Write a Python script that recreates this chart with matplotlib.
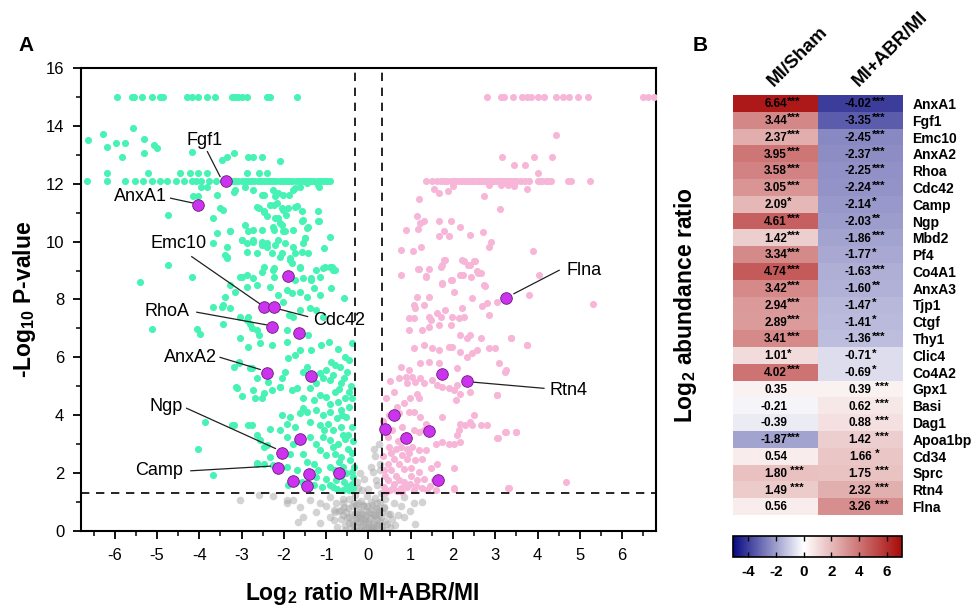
import numpy as np
import matplotlib
matplotlib.use("Agg")
import matplotlib.pyplot as plt
from matplotlib.colors import LinearSegmentedColormap, Normalize
from matplotlib.ticker import MultipleLocator

plt.rcParams['font.family'] = ['Liberation Sans', 'DejaVu Sans']
plt.rcParams['axes.unicode_minus'] = False
plt.rcParams['mathtext.default'] = 'regular'

# ---------------- volcano data (log2 ratio, -log10 p) ----------------
green_top_x = [-5.95, -5.59, -5.55, -5.36, -5.12, -4.93, -4.86, -4.29, -4.17, -4.03,
               -3.82, -3.63, -3.22, -3.15, -3.08, -2.99, -2.87, -2.39, -2.32, -1.68]
green_row_x = [-6.66, -6.18, -5.76, -5.52, -5.33, -5.12, -4.93, -4.76, -4.55, -4.36,
               -4.18, -4.07, -3.95, -3.76, -3.6, -3.45, -3.3, -3.22, -3.15, -3.08,
               -3.0, -2.93, -2.85, -2.78, -2.7, -2.62, -2.55, -2.48, -2.4, -2.33,
               -2.25, -2.18, -2.1, -2.02, -1.95, -1.88, -1.8, -1.72, -1.65, -1.58,
               -1.5, -1.42, -1.35, -1.28, -1.2, -1.12, -1.05, -0.98, -0.92]
green_pts = [
    (-6.63, 13.52), (-6.29, 13.72), (-6.18, 13.27), (-5.96, 13.4), (-5.82, 12.94),
    (-5.75, 13.4), (-5.56, 13.91), (-5.32, 13.55), (-5.3, 13.06), (-5.07, 13.35),
    (-5.01, 13.23), (-6.18, 12.37), (-5.21, 12.37), (-4.45, 12.37), (-4.22, 12.37),
    (-4.18, 13.11), (-4.02, 12.37), (-3.82, 12.37), (-3.47, 12.83), (-3.35, 12.94),
    (-3.19, 13.06), (-2.84, 12.94), (-2.72, 12.94), (-2.52, 12.94), (-2.09, 12.77),
    (-2.87, 12.37), (-2.6, 12.37), (-2.4, 12.37), (-4.14, 11.56), (-4.02, 11.56),
    (-3.59, 11.62), (-3.82, 11.9), (-3.97, 11.9), (-3.43, 11.1), (-3.15, 11.79),
    (-2.92, 11.9), (-2.72, 11.79), (-2.48, 11.62), (-2.25, 11.79), (-2.13, 11.68),
    (-2.01, 11.62), (-1.78, 11.79), (-1.63, 11.9), (-1.16, 11.9), (-2.6, 11.16),
    (-2.48, 11.05), (-2.32, 11.27), (-2.17, 11.33), (-2.01, 11.1), (-1.9, 11.16),
    (-1.7, 11.22), (-1.58, 11.05), (-4.73, 10.92), (-3.67, 10.81), (-2.4, 10.87),
    (-2.21, 10.81), (-1.94, 10.92), (-1.55, 10.76), (-1.16, 10.7), (-1.19, 11.05),
    (-3.59, 10.29), (-3.27, 10.35), (-2.84, 10.35), (-2.72, 10.4), (-2.52, 10.4),
    (-2.25, 10.52), (-2.09, 10.64), (-1.98, 10.35), (-1.78, 10.4), (-1.42, 10.52),
    (-3.67, 9.94), (-3.35, 9.83), (-3.0, 10.06), (-2.87, 9.94), (-2.72, 10.06),
    (-2.52, 9.89), (-2.4, 9.94), (-2.13, 10.06), (-1.98, 9.94), (-1.78, 9.83),
    (-1.55, 9.94), (-1.51, 10.12), (-0.9, 10.17), (-1.06, 9.77), (-3.35, 9.48),
    (-2.87, 9.65), (-2.63, 9.6), (-2.28, 9.6), (-2.09, 9.48), (-1.86, 9.37),
    (-1.74, 9.6), (-1.58, 9.65), (-4.73, 9.19), (-4.18, 8.79), (-3.04, 8.79),
    (-2.87, 8.85), (-2.48, 9.13), (-2.25, 9.02), (-1.82, 9.25), (-1.63, 9.13),
    (-1.35, 8.73), (-1.23, 9.02), (-1.03, 9.13), (-0.87, 9.13), (-0.84, 9.02),
    (-5.4, 8.62), (-3.19, 11.73), (-2.52, 11.62), (-2.2, 11.56), (-1.89, 11.62),
    (-1.74, 11.84), (-1.46, 12.02), (-1.19, 11.96), (-3.51, 11.16), (-2.64, 11.21),
    (-2.48, 11.04), (-2.24, 11.27), (-2.05, 11.16), (-1.74, 11.21), (-2.13, 10.81),
    (-2.05, 10.58), (-2.91, 10.58), (-2.24, 10.41), (-2.01, 10.35), (-1.58, 10.7),
    (-1.46, 10.46), (-1.19, 10.7), (-3.27, 10.35), (-2.99, 10.06), (-2.72, 10.0),
    (-2.53, 10.0), (-2.41, 9.83), (-2.21, 9.89), (-2.05, 9.6), (-1.85, 9.43),
    (-1.42, 9.6), (-1.5, 10.12), (-3.39, 9.54), (-3.35, 9.43), (-2.24, 9.08),
    (-1.62, 9.08), (-1.07, 9.08), (-0.92, 9.13), (-0.8, 9.02), (-2.99, 8.79),
    (-2.72, 8.73), (-2.53, 8.96), (-2.24, 8.79), (-1.74, 8.67), (-1.54, 8.73),
    (-1.35, 8.67), (-1.15, 8.79), (-3.27, 8.5), (-3.15, 8.27), (-2.88, 8.44),
    (-2.64, 8.5), (-2.32, 8.44), (-2.13, 8.16), (-1.93, 8.33), (-1.81, 8.21),
    (-1.62, 8.27), (-1.46, 8.1), (-1.3, 8.39), (-1.15, 8.16), (-0.88, 8.39),
    (-0.59, 8.04), (-3.39, 8.1), (-3.47, 7.75), (-3.43, 7.17), (-2.01, 7.93),
    (-1.89, 7.47), (-1.78, 7.41), (-1.62, 7.64), (-1.38, 7.7), (-1.23, 7.64),
    (-1.07, 7.41), (-1.93, 6.94), (-1.42, 6.77), (-2.84, 7.4), (-2.8, 7.17),
    (-2.76, 7.0), (-3.03, 6.66), (-2.6, 6.77), (-2.57, 6.48), (-2.29, 6.43),
    (-1.93, 6.54), (-1.37, 6.25), (-1.13, 6.43), (-0.93, 6.54), (-1.62, 6.25),
    (-1.9, 5.97), (-1.74, 6.08), (-3.07, 5.79), (-2.8, 5.62), (-1.97, 5.5),
    (-2.05, 5.27), (-1.54, 5.5), (-1.46, 5.68), (-1.15, 5.45), (-1.0, 5.56),
    (-0.88, 5.85), (-0.8, 5.74), (-1.07, 5.27), (-0.92, 5.21), (-0.84, 5.39),
    (-0.68, 5.68), (-0.65, 5.1), (-0.47, 4.81), (-3.11, 4.93), (-2.72, 4.87),
    (-2.53, 4.58), (-2.29, 4.87), (-2.09, 4.99), (-1.82, 4.87), (-1.7, 4.93),
    (-1.38, 4.93), (-1.23, 5.1), (-1.54, 4.58), (-1.3, 4.52), (-1.15, 4.7),
    (-1.0, 4.64), (-0.8, 4.81), (-0.72, 4.47), (-1.54, 4.24), (-1.62, 4.06),
    (-1.46, 4.12), (-2.05, 4.0), (-1.85, 3.94), (-1.23, 4.18), (-1.07, 4.0),
    (-0.92, 4.12), (-0.65, 4.18), (-0.53, 3.94), (-0.45, 4.29), (-1.93, 3.71),
    (-1.74, 3.6), (-1.38, 3.77), (-1.15, 3.66), (-0.96, 3.71), (-0.84, 3.48),
    (-0.65, 3.6), (-3.23, 3.66), (-2.84, 3.66), (-2.33, 3.54), (-2.09, 3.48),
    (-2.57, 3.14), (-2.41, 2.96), (-1.93, 3.25), (-1.78, 3.02), (-1.38, 3.25),
    (-1.23, 3.02), (-1.07, 3.25), (-0.92, 3.14), (-0.72, 3.02), (-0.56, 3.19),
    (-0.48, 2.85), (-1.15, 2.79), (-1.0, 2.62), (-0.8, 2.67), (-0.65, 2.56),
    (-1.54, 2.67), (-1.85, 2.67), (-2.33, 2.56), (-2.64, 2.33), (-2.25, 2.27),
    (-1.93, 2.21), (-1.7, 2.1), (-1.3, 2.33), (-1.19, 2.1), (-0.92, 2.21),
    (-0.6, 2.21), (-0.4, 2.04), (-1.23, 1.87), (-1.0, 1.81), (-0.77, 1.75),
    (-0.57, 1.7), (-0.4, 1.64), (-1.11, 1.53), (-0.84, 1.53), (-0.6, 1.41),
    (-0.45, 1.41), (-0.37, 1.87), (-1.9, 1.58), (-1.58, 1.7), (-0.34, 2.21),
    (-0.44, 2.44), (-5.13, 6.97), (-4.06, 6.97), (-3.98, 6.81), (-3.67, 7.75),
    (-3.43, 7.81), (-3.27, 7.7), (-3.03, 7.41), (-2.87, 7.29), (-2.64, 6.94),
    (-2.84, 6.37), (-3.07, 5.85), (-3.19, 5.68), (-2.76, 5.62), (-2.64, 5.27),
    (-2.37, 5.16), (-2.09, 4.98), (-3.13, 4.96), (-2.99, 4.66), (-2.68, 4.58),
    (-2.48, 4.76), (-3.86, 3.77), (-4.02, 2.85), (-3.67, 1.93), (-3.19, 3.66),
    (-2.76, 3.66), (-2.64, 3.31), (-2.48, 2.91), (-2.64, 2.35), (-2.48, 2.33),
    (-0.5, 5.5), (-0.42, 5.0), (-0.55, 4.6), (-0.38, 3.6), (-0.6, 3.3),
    (-0.48, 3.3), (-0.4, 2.7), (-0.7, 2.4), (-0.52, 2.0), (-0.75, 1.45),
    (-0.9, 1.6), (-0.5, 1.55), (-0.65, 1.9), (-0.36, 1.5), (-0.85, 2.9),
    (-0.55, 6.0), (-0.72, 6.3), (-0.4, 6.5), (-0.62, 4.0), (-0.9, 4.4),
    (-0.75, 3.9), (-1.05, 3.5), (-0.38, 4.6), (-0.45, 5.9), (-0.7, 4.9),
    (-0.58, 5.3), (-0.36, 3.1), (-0.8, 2.1), (-1.3, 1.6), (-1.45, 2.4),
]

pink_top_x = [2.81, 3.13, 3.2, 3.41, 3.64, 3.76, 3.84, 4.0, 4.15, 4.43, 4.59, 4.75,
              4.96, 5.2, 6.49, 6.6, 6.76]
pink_row_x = [1.37, 1.5, 1.63, 1.72, 1.78, 1.86, 1.94, 2.02, 2.08, 2.14, 2.2, 2.26,
              2.32, 2.38, 2.44, 2.5, 2.56, 2.61, 2.67, 2.73, 2.79, 2.85, 2.91, 2.97,
              3.03, 3.09, 3.15, 3.21, 3.27, 3.33, 3.38, 3.44, 3.52, 3.6, 3.7, 3.8,
              4.0, 4.05, 4.1, 4.19, 4.25, 4.31, 4.71, 4.79, 5.24]
pink_pts = [
    (4.43, 13.69), (3.15, 12.94), (3.92, 12.94), (4.35, 12.94), (3.44, 12.65),
    (3.7, 12.65), (4.0, 12.37), (1.55, 11.81), (1.67, 11.67), (1.88, 11.75),
    (1.99, 11.91), (2.85, 11.96), (3.13, 11.96), (3.29, 11.96), (3.45, 11.91),
    (3.76, 11.83), (1.2, 11.47), (2.73, 11.56), (3.1, 11.12), (1.14, 10.87),
    (1.23, 10.66), (1.31, 10.7), (1.66, 10.72), (1.94, 10.72), (2.16, 10.52),
    (0.88, 10.4), (1.18, 10.44), (1.78, 10.35), (1.66, 10.18), (1.9, 10.18),
    (2.39, 10.24), (2.7, 10.33), (2.9, 10.0), (2.84, 9.82), (0.76, 9.71),
    (1.06, 9.69), (1.25, 9.8), (3.9, 9.69), (1.81, 9.37), (1.71, 9.11),
    (1.75, 9.2), (2.21, 9.35), (2.35, 9.18), (2.51, 9.34), (2.57, 9.0),
    (2.65, 8.9), (0.76, 8.85), (1.17, 9.06), (1.43, 9.06), (1.37, 8.8),
    (1.94, 8.68), (2.23, 8.83), (2.43, 8.77), (2.75, 8.48), (4.03, 8.85),
    (1.75, 8.53), (1.19, 9.05), (1.35, 8.79), (1.78, 9.37), (1.75, 8.56),
    (1.98, 8.68), (2.17, 8.85), (2.25, 9.32), (2.41, 9.2), (2.49, 9.32),
    (2.6, 8.91), (2.73, 8.5), (2.02, 8.27), (1.15, 8.1), (1.43, 8.1),
    (1.07, 7.82), (1.31, 7.82), (1.11, 7.7), (0.96, 7.35), (1.07, 7.35),
    (1.43, 7.41), (1.47, 7.29), (1.63, 7.53), (1.71, 7.41), (1.82, 7.64),
    (1.98, 7.41), (2.13, 7.35), (2.25, 7.41), (2.21, 7.7), (2.45, 8.04),
    (2.69, 7.76), (2.84, 7.47), (2.8, 7.87), (3.04, 7.93), (0.96, 6.95),
    (1.27, 6.95), (1.43, 7.06), (1.67, 7.12), (1.94, 7.12), (2.17, 6.77),
    (2.41, 6.77), (2.65, 6.66), (2.33, 6.66), (3.36, 6.66), (3.75, 6.43),
    (1.07, 6.31), (1.31, 6.43), (1.51, 6.31), (1.67, 6.25), (1.9, 6.37),
    (1.98, 6.37), (2.17, 6.2), (2.33, 6.02), (2.45, 6.14), (2.57, 6.25),
    (2.84, 6.31), (3.0, 6.31), (1.23, 5.79), (1.43, 5.85), (1.67, 5.79),
    (0.76, 5.68), (0.96, 5.56), (2.1, 5.62), (3.08, 5.79), (3.24, 5.5),
    (0.72, 5.27), (0.88, 5.33), (1.03, 5.33), (1.11, 5.16), (0.92, 5.1),
    (1.23, 5.27), (1.31, 5.1), (1.51, 5.21), (1.63, 5.04), (1.75, 4.98),
    (1.9, 4.93), (2.02, 4.87), (2.17, 4.75), (2.41, 4.81), (2.06, 4.52),
    (2.1, 5.04), (1.15, 4.75), (1.19, 4.58), (0.99, 4.58), (0.84, 4.41),
    (0.68, 4.29), (0.41, 4.58), (2.49, 4.0), (2.41, 3.77), (1.75, 3.94),
    (3.04, 4.7), (0.49, 4.0), (0.72, 4.06), (0.96, 4.12), (1.07, 4.12),
    (1.23, 3.94), (1.35, 3.71), (0.8, 3.6), (1.07, 3.48), (1.19, 3.43),
    (1.31, 3.48), (2.17, 3.71), (2.29, 3.66), (2.45, 3.66), (2.65, 3.66),
    (2.8, 3.66), (2.13, 3.48), (2.1, 3.31), (3.24, 3.43), (3.48, 3.43),
    (3.04, 3.2), (1.59, 3.02), (1.75, 3.08), (1.9, 3.02), (2.02, 3.02),
    (2.17, 3.08), (0.45, 3.25), (0.49, 2.91), (0.64, 2.85), (0.76, 2.91),
    (0.92, 2.85), (1.03, 2.91), (1.19, 2.79), (1.35, 2.79), (0.53, 2.68),
    (0.8, 2.62), (0.92, 2.5), (1.11, 2.45), (1.27, 2.5), (0.6, 2.5),
    (0.72, 2.33), (1.0, 2.16), (1.63, 2.33), (2.02, 2.16), (1.47, 2.16),
    (0.37, 2.1), (0.53, 2.1), (0.45, 1.75), (0.6, 1.64), (0.72, 1.75),
    (0.84, 1.7), (0.99, 1.64), (1.15, 1.75), (1.31, 1.81), (1.55, 1.75),
    (1.63, 1.75), (0.37, 1.52), (0.57, 1.47), (0.76, 1.47), (0.92, 1.52),
    (1.07, 1.41), (1.27, 1.47), (1.39, 1.43), (1.59, 1.41), (2.02, 1.47),
    (3.32, 1.49), (4.67, 1.7), (3.29, 1.47), (2.02, 1.44), (5.3, 7.83),
    (3.76, 6.42), (3.36, 6.68), (3.8, 8.15), (3.05, 4.69), (3.25, 3.43),
    (3.5, 3.43), (3.07, 3.22), (3.25, 5.56),
    (0.4, 1.9), (0.35, 2.6), (0.45, 2.3), (0.5, 1.4), (0.65, 1.9),
    (0.8, 1.35), (1.0, 1.9), (1.2, 2.05), (0.7, 3.1), (0.55, 3.5),
    (0.9, 3.3), (0.35, 3.8), (0.6, 4.8), (0.5, 5.2), (0.85, 2.15),
    (1.12, 1.55), (0.68, 1.38), (1.45, 1.55), (0.42, 1.36), (0.95, 2.7),
]

gray_pts = [
    (-3.03, 1.06), (-2.6, 1.25), (-2.25, 1.2), (-1.93, 0.95), (-1.93, 1.06),
    (-1.78, 1.06), (-1.62, 0.83), (-1.66, 0.3), (-1.54, 0.49), (-1.38, 1.06),
    (-1.23, 0.66), (-1.15, 0.95), (-1.15, 0.26), (-0.92, 1.18), (-0.92, 0.49),
    (-0.82, 0.72), (-0.82, 0.37), (-0.8, 0.66), (-0.77, 0.95), (-0.65, 0.72),
    (-0.6, 1.12), (-0.58, 0.83), (-0.45, 0.26), (-0.55, 0.2), (-0.5, 0.45),
    (-0.48, 0.8), (-0.45, 1.1), (-0.42, 0.1), (-0.4, 0.6), (-0.38, 0.35),
    (-0.35, 0.95), (-0.33, 1.25), (-0.3, 0.15), (-0.28, 0.5), (-0.25, 0.75),
    (-0.22, 0.05), (-0.2, 0.3), (-0.18, 1.05), (-0.15, 0.6), (-0.12, 0.2),
    (-0.1, 0.85), (-0.08, 0.45), (-0.05, 0.1), (-0.03, 1.2), (0.0, 0.35),
    (0.02, 0.65), (0.05, 0.05), (0.08, 0.9), (0.1, 0.25), (0.12, 0.55),
    (0.15, 1.15), (0.18, 0.1), (0.2, 0.4), (0.22, 0.75), (0.25, 0.2),
    (0.28, 1.0), (0.3, 0.5), (0.33, 0.15), (0.36, 0.8), (0.4, 0.35),
    (0.45, 0.6), (0.5, 0.15), (-0.6, 0.95), (-0.65, 0.4), (-0.7, 0.7),
    (-0.25, 1.5), (-0.1, 1.8), (0.05, 2.2), (0.15, 2.6), (0.2, 1.6),
    (-0.2, 2.0), (0.13, 2.85), (0.25, 3.0), (-0.15, 1.4), (0.0, 1.45),
    (0.28, 2.3), (0.1, 2.04), (0.3, 1.3), (-0.28, 1.7), (0.13, 0.0),
    (-0.35, 0.02), (0.35, 0.05), (-0.05, 0.55), (0.17, 1.75), (0.28, 2.1),
    (0.84, 1.18), (1.07, 0.95), (1.27, 1.0), (0.99, 0.7), (0.84, 0.47),
    (1.1, 0.24), (0.37, 0.83), (0.52, 0.6), (0.6, 0.95), (-0.3, 0.9),
    (-0.1, 0.05), (0.2, 0.95), (-0.45, 0.5), (0.05, 1.0), (-0.2, 0.65),
    (-0.27, 0.3), (-0.22, 0.55), (-0.17, 0.15), (-0.13, 0.4), (-0.07, 0.7),
    (-0.02, 0.25), (0.03, 0.45), (0.07, 0.15), (0.09, 0.6), (0.14, 0.35),
    (0.17, 0.8), (0.21, 0.2), (0.24, 0.55), (0.27, 0.3), (-0.32, 0.6),
    (-0.36, 0.25), (-0.3, 0.4), (-0.24, 0.95), (-0.14, 0.9), (-0.04, 0.85),
    (0.06, 0.75), (0.16, 0.55), (0.26, 0.7), (-0.19, 0.45), (-0.09, 0.3),
    (0.01, 0.1), (0.11, 0.1), (-0.4, 0.85), (0.32, 0.65), (0.38, 1.1),
    (-0.52, 0.65), (-0.56, 0.05), (0.44, 0.25), (0.55, 0.4), (0.62, 0.2),
    (-0.75, 0.15), (-1.0, 0.85), (0.7, 0.55), (0.78, 0.85), (-0.6, 0.55),
]

hl_x = [-4.03, -3.38, -1.9, -2.48, -2.24, -2.28, -1.65, -2.4, -1.37, -1.61,
        -2.05, -2.15, -1.78, -1.45, -1.41, -0.7,
        3.26, 1.75, 2.32, 0.6, 0.39, 1.43, 0.89, 1.65]
hl_y = [11.27, 12.1, 8.8, 7.75, 7.75, 7.06, 6.83, 5.47, 5.36, 3.17,
        2.68, 2.16, 1.72, 1.56, 1.96, 1.99,
        8.06, 5.41, 5.18, 4.0, 3.51, 3.46, 3.2, 1.75]

# label, text position, leader start, leader end
ann_names = ['Fgf1', 'AnxA1', 'Emc10', 'RhoA', 'Cdc42', 'AnxA2', 'Ngp', 'Camp', 'Flna', 'Rtn4']
ann_text = [(-3.88, 13.51), (-5.39, 11.56), (-4.5, 9.92), (-4.76, 7.58), (-0.69, 7.29),
            (-4.22, 6.01), (-4.79, 4.3), (-4.95, 2.08), (5.1, 9.01), (4.74, 4.87)]
ann_from = [(-3.81, 13.11), (-4.68, 11.5), (-4.18, 9.48), (-4.06, 7.56), (-1.44, 7.41),
            (-3.51, 6.0), (-4.3, 4.24), (-4.2, 2.08), (4.51, 9.01), (4.15, 4.93)]
ann_to = [(-3.51, 12.25), (-4.14, 11.33), (-2.55, 7.83), (-2.4, 7.12), (-2.2, 7.7),
          (-2.56, 5.58), (-2.2, 2.85), (-2.32, 2.24), (3.44, 8.2), (2.42, 5.15)]

# ---------------- heatmap data ----------------
genes = ['AnxA1', 'Fgf1', 'Emc10', 'AnxA2', 'Rhoa', 'Cdc42', 'Camp', 'Ngp', 'Mbd2', 'Pf4',
         'Co4A1', 'AnxA3', 'Tjp1', 'Ctgf', 'Thy1', 'Clic4', 'Co4A2', 'Gpx1', 'Basi', 'Dag1',
         'Apoa1bp', 'Cd34', 'Sprc', 'Rtn4', 'Flna']
mi_sham = [6.64, 3.44, 2.37, 3.95, 3.58, 3.05, 2.09, 4.61, 1.42, 3.34, 4.74, 3.42, 2.94,
           2.89, 3.41, 1.01, 4.02, 0.35, -0.21, -0.39, -1.87, 0.54, 1.80, 1.49, 0.56]
sham_sig = ['***', '***', '***', '***', '***', '***', '*', '***', '***', '***', '***', '***',
            '***', '***', '***', '*', '***', '', '', '', '***', '', ' ***', ' ***', '']
mi_abr = [-4.02, -3.35, -2.45, -2.37, -2.25, -2.24, -2.14, -2.03, -1.86, -1.77, -1.63, -1.60,
          -1.47, -1.41, -1.36, -0.71, -0.69, 0.39, 0.62, 0.88, 1.42, 1.66, 1.75, 2.32, 3.26]
abr_sig = ['***', '***', '***', '***', '***', '***', '*', '**', '***', '*', '***', '**', '*',
           '*', '***', '*', '*', ' ***', ' ***', ' ***', ' ***', ' *', ' ***', ' ***', ' ***']
columns = ['MI/Sham', 'MI+ABR/MI']
cbar_ticks = [-4, -2, 0, 2, 4, 6]

# ---------------- figure ----------------
fig = plt.figure(figsize=(9.73, 6.06), dpi=100)

ax = fig.add_axes([0.0832, 0.1238, 0.591, 0.764])
ms = 26
gp = np.array(green_pts)
pp = np.array(pink_pts)
gr = np.array(gray_pts)
ax.scatter(gr[:, 0], gr[:, 1], s=30, color='#a8a8a8', alpha=0.5, lw=0, zorder=2)
green = '#46f2b4'
pink = '#f7b6d8'
ax.scatter(gp[:, 0], gp[:, 1], s=ms, color=green, lw=0, zorder=3)
ax.scatter(green_top_x, [15] * len(green_top_x), s=ms, color=green, lw=0, zorder=3)
ax.scatter(green_row_x, [12.1] * len(green_row_x), s=ms, color=green, lw=0, zorder=3)
ax.scatter(pp[:, 0], pp[:, 1], s=ms, color=pink, lw=0, zorder=3)
ax.scatter(pink_top_x, [15] * len(pink_top_x), s=ms, color=pink, lw=0, zorder=3)
ax.scatter(pink_row_x, [12.1] * len(pink_row_x), s=ms, color=pink, lw=0, zorder=3)
ax.scatter(hl_x, hl_y, s=70, color='#cc33ee', edgecolor='#6a1b7a', lw=0.6, zorder=5)

for name, t, a, b in zip(ann_names, ann_text, ann_from, ann_to):
    ax.text(t[0], t[1], name, fontsize=13, ha='center', va='center', zorder=6)
    ax.plot([a[0], b[0]], [a[1], b[1]], color='#202020', lw=0.9, zorder=4)

dash = (0, (5, 4))
ax.axhline(1.3, color='black', lw=1.2, ls=dash, zorder=4)
ax.axvline(-0.32, color='black', lw=1.2, ls=dash, zorder=4)
ax.axvline(0.32, color='black', lw=1.2, ls=dash, zorder=4)

ax.set_xlim(-6.8, 6.8)
ax.set_ylim(0, 16)
ax.xaxis.set_major_locator(MultipleLocator(1))
ax.xaxis.set_minor_locator(MultipleLocator(0.5))
ax.yaxis.set_major_locator(MultipleLocator(2))
ax.yaxis.set_minor_locator(MultipleLocator(1))
ax.tick_params(which='major', direction='out', length=6, width=1.3, labelsize=12, pad=6)
ax.tick_params(which='minor', direction='out', length=3.5, width=1.1)
for sp in ax.spines.values():
    sp.set_linewidth(1.5)
ax.set_xlabel(r'Log$_2$ ratio MI+ABR/MI', fontsize=16.5, fontweight='bold')
ax.set_ylabel(r'-Log$_{10}$ P-value', fontsize=16.5, fontweight='bold')
ax.xaxis.set_label_coords(0.49, -0.105)
ax.yaxis.set_label_coords(-0.075, 0.5)

fig.text(0.027, 0.925, 'A', fontsize=15, fontweight='bold', ha='center', va='center')
fig.text(0.72, 0.925, 'B', fontsize=15, fontweight='bold', ha='center', va='center')

# heatmap
cmap = LinearSegmentedColormap.from_list(
    'bwr2', [(0.0, '#0a0a82'), (5.1 / 12.2, '#ffffff'), (1.0, '#a80a0a')])
norm = Normalize(vmin=-5.1, vmax=7.1)
hx = fig.add_axes([0.7533, 0.1502, 0.1737, 0.693])
mat = np.column_stack([mi_sham, mi_abr])
im = hx.imshow(mat, cmap=cmap, norm=norm, aspect='auto', interpolation='nearest')
hx.set_xticks([])
hx.set_yticks(range(len(genes)))
hx.set_yticklabels(genes, fontsize=10, fontweight='bold')
hx.tick_params(axis='y', left=False, labelleft=False, right=True, labelright=True,
               length=0, pad=7.5)
for sp in hx.spines.values():
    sp.set_visible(False)

for j, (vals, sigs) in enumerate([(mi_sham, sham_sig), (mi_abr, abr_sig)]):
    for i, (v, s) in enumerate(zip(vals, sigs)):
        xr = j + 0.14
        hx.text(xr, i + 0.05, f'{v:.2f}', fontsize=8.5, fontweight='bold',
                ha='right', va='center')
        if s:
            hx.text(xr, i - 0.12, s, fontsize=8.2, fontweight='bold',
                    ha='left', va='center')

for j, c in enumerate(columns):
    hx.text(j + 0.02, -0.8, c, fontsize=13.5, fontweight='bold', rotation=45,
            rotation_mode='anchor', ha='left', va='bottom')

hx.set_ylabel(r'Log$_2$ abundance ratio', fontsize=16.5, fontweight='bold')
hx.yaxis.set_label_position('left')
hx.yaxis.set_label_coords(-0.2, 0.5)

cax = fig.add_axes([0.7533, 0.0809, 0.1737, 0.0347])
cb = fig.colorbar(im, cax=cax, orientation='horizontal', ticks=cbar_ticks)
cax.tick_params(direction='in', top=True, bottom=True, length=3.5, width=1,
                labelsize=11, pad=6)
for lab in cax.get_xticklabels():
    lab.set_fontweight('bold')
cb.outline.set_linewidth(1.2)

fig.savefig('out.png', dpi=100)
